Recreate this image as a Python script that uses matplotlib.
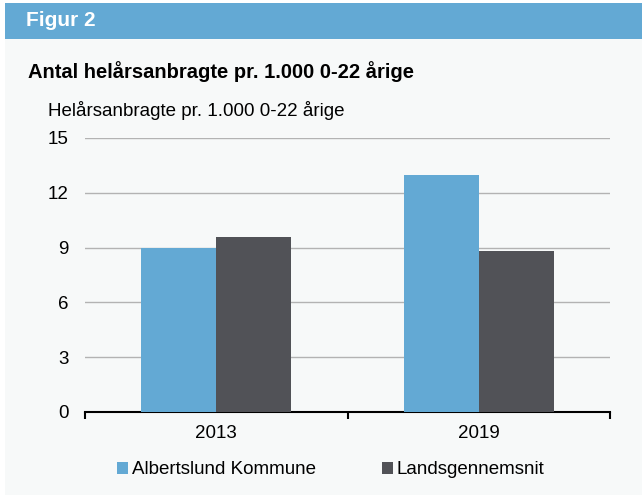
import numpy as np
import matplotlib.pyplot as plt
from matplotlib.patches import Rectangle

# Data
years = ['2013', '2019']
albertslund = [9.0, 13.0]
lands = [9.6, 8.8]
series_names = ['Albertslund Kommune', 'Landsgennemsnit']
yticks = [0, 3, 6, 9, 12, 15]

blue = '#63a9d4'
dark = '#515257'
bg = '#f7f9f9'

plt.rcParams['font.family'] = ['Liberation Sans', 'DejaVu Sans']

fig = plt.figure(figsize=(6.42, 4.95), dpi=100)
fig.patch.set_facecolor('white')

# background panel + header bar
fig.patches.append(Rectangle((5/642, 0), 1 - 5/642, 1 - 39/495, transform=fig.transFigure,
                             facecolor=bg, edgecolor='none', zorder=-2))
fig.patches.append(Rectangle((5/642, 1 - 39/495), 1 - 5/642, 36/495, transform=fig.transFigure,
                             facecolor=blue, edgecolor='none', zorder=-2))
fig.text(26/642, 1 - 21/495, 'Figur 2', color='white', fontsize=15, fontweight='bold',
         va='center', ha='left')
fig.text(28/642, 1 - 72/495, 'Antal helårsanbragte pr. 1.000 0-22 årige', fontsize=14.5,
         fontweight='bold', va='center', ha='left')
fig.text(48/642, 1 - 111/495, 'Helårsanbragte pr. 1.000 0-22 årige', fontsize=13.5,
         va='center', ha='left')

ax = fig.add_axes([85/642, 1 - 412/495, 525/642, 274/495])
ax.set_facecolor(bg)
ax.set_zorder(1)

x = np.arange(len(years))
w = 0.286
b1 = ax.bar(x - w/2, albertslund, w, color=blue, zorder=3, label=series_names[0])
b2 = ax.bar(x + w/2, lands, w, color=dark, zorder=3, label=series_names[1])

ax.set_xlim(-0.5, 1.5)
ax.set_ylim(0, 15)
ax.set_yticks(yticks)
ax.yaxis.grid(True, color='#b3b3b3', linewidth=1)
ax.set_axisbelow(True)
for s in ['top', 'right', 'left']:
    ax.spines[s].set_visible(False)
ax.spines['bottom'].set_linewidth(1.5)
ax.spines['bottom'].set_color('black')
ax.tick_params(axis='y', length=0, labelsize=13.5, pad=12)

ax.set_xticks([-0.5, 0.5, 1.5])
ax.set_xticklabels([])
ax.set_xticks(x, minor=True)
ax.set_xticklabels(years, minor=True, fontsize=13.5)
ax.tick_params(axis='x', which='major', length=5, width=1.5, direction='out')
ax.tick_params(axis='x', which='minor', length=0, pad=9)

fig.legend(handles=[b1, b2], labels=series_names, loc='center', ncol=2,
           bbox_to_anchor=(0.515, 1 - 470/495), frameon=False, fontsize=13.5,
           handlelength=0.6, handleheight=0.6, handletextpad=0.2, columnspacing=3.5)

fig.savefig('out.png', dpi=100, facecolor=fig.get_facecolor())
